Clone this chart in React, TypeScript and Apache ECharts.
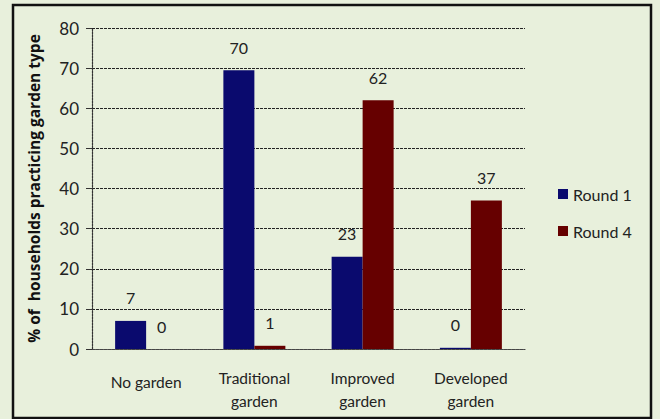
import React, { useEffect, useRef } from "react";
import * as echarts from "echarts";

const categories = ["No garden", "Traditional\ngarden", "Improved\ngarden", "Developed\ngarden"];
const round1 = [7, 69.5, 23, 0.3];
const round4 = [0, 0.8, 62, 37];
const yTicks = { min: 0, max: 80, interval: 10 };

const FONT = "Lato";

export default function App() {
  const ref = useRef<HTMLDivElement>(null);
  useEffect(() => {
    document.body.style.margin = "0";
    const chart = echarts.init(ref.current!, null, { renderer: "svg" });
    const label = {
      show: true,
      position: "top",
      distance: 15,
      fontFamily: FONT,
      fontSize: 16,
      color: "#222",
      formatter: (p: any) => String(Math.round(p.value)),
    };
    chart.setOption({
      animation: false,
      backgroundColor: "#e8f0dc",
      graphic: [
        {
          type: "rect",
          shape: { x: 13, y: 5, width: 638, height: 413 },
          style: { fill: "none", stroke: "#111", lineWidth: 2.5 },
        },
      ],
      grid: { left: 92, right: 135, top: 28, bottom: 70 },
      legend: {
        orient: "vertical",
        left: 553,
        top: 181,
        itemWidth: 10,
        itemHeight: 10,
        itemGap: 21,
        icon: "rect",
        textStyle: { fontFamily: FONT, fontSize: 16, color: "#222" },
      },
      xAxis: {
        type: "category",
        data: categories,
        axisLine: { lineStyle: { color: "#444", type: [3, 1], width: 1.2 } },
        axisTick: { show: false },
        axisLabel: {
          interval: 0,
          hideOverlap: false,
          margin: 17,
          fontFamily: FONT,
          fontSize: 15.5,
          color: "#222",
          lineHeight: 23,
          formatter: (v: string) => (v.indexOf("\n") < 0 ? "{s|" + v + "}" : v),
          rich: { s: { fontFamily: FONT, fontSize: 15.5, color: "#222", padding: [8, 0, 0, 0] } },
        },
      },
      yAxis: {
        type: "value",
        min: yTicks.min,
        max: yTicks.max,
        interval: yTicks.interval,
        name: "% of  households practicing garden type",
        nameLocation: "middle",
        nameGap: 50,
        nameTextStyle: { fontFamily: "Open Sans", fontSize: 15.5, fontWeight: "bold", color: "#111" },
        axisLine: { show: true, lineStyle: { color: "#333", type: [2, 1], width: 1.2 } },
        axisTick: { show: true, length: 6, lineStyle: { color: "#333" } },
        axisLabel: { margin: 13, fontFamily: FONT, fontSize: 17, color: "#222" },
        splitLine: { lineStyle: { color: "#222", type: [3, 1], width: 1.2 } },
      },
      series: [
        {
          name: "Round 1",
          type: "bar",
          data: round1,
          barWidth: 31,
          barGap: "0%",
          itemStyle: { color: "#0a0a6e" },
          label,
        },
        {
          name: "Round 4",
          type: "bar",
          data: round4,
          barWidth: 31,
          barGap: "0%",
          itemStyle: { color: "#660000" },
          label,
        },
      ],
    });
    return () => chart.dispose();
  }, []);
  return <div ref={ref} style={{ width: 660, height: 419 }} />;
}
